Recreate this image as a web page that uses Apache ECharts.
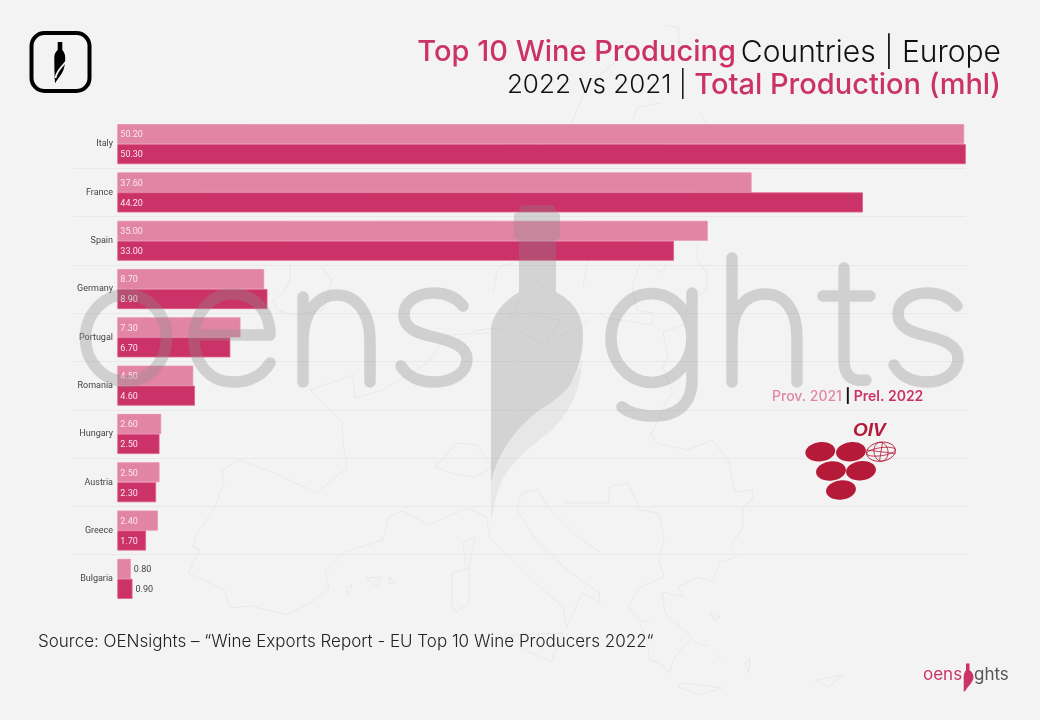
<!DOCTYPE html>
<html><head><meta charset="utf-8">
<style>html,body{margin:0;padding:0;background:#f3f3f3}#c{width:1040px;height:720px}</style>
<script src="https://cdn.jsdelivr.net/npm/echarts@6/dist/echarts.min.js"></script>
</head><body><div id="c"></div>
<script>
const countries = ['Italy','France','Spain','Germany','Portugal','Romania','Hungary','Austria','Greece','Bulgaria'];
const prov2021 = [50.2,37.6,35.0,8.7,7.3,4.5,2.6,2.5,2.4,0.8];
const prel2022 = [50.3,44.2,33.0,8.9,6.7,4.6,2.5,2.3,1.7,0.9];

const PINK='#cb3267', LIGHT='#e285a5', FONT='Inter, Lato, sans-serif';
const chart = echarts.init(document.getElementById('c'), null, {renderer:'canvas'});

function barData(arr){
  return arr.map(v => v < 1
    ? {value:v, label:{position:'right', distance:3, color:'#444'}}
    : {value:v});
}
function barSeries(name, arr, color, edge){
  return {
    name, type:'bar', data:barData(arr), barWidth:20, barGap:'0%',
    itemStyle:{color, borderColor:edge, borderWidth:0.8},
    label:{show:true, position:'insideLeft', distance:3, offset:[0,1], fontFamily:'Roboto', fontSize:9,
      color:'#fbe6ee', formatter:p=>p.value.toFixed(2)},
    silent:true, animation:false
  };
}

const mapPaths = [
 'M239 460L222 470L224 482L215 508L197 533L193 547L200 550L188 573L224 590L230 608L251 606L287 615L312 602L329 588L325 572L345 552L383 540L389 517L402 511L429 525L467 508L486 517L490 538L513 560L540 587L563 607L567 627L582 593L600 603L599 593L567 570L536 540L517 510L521 493L538 490L548 507L578 537L601 553',
 'M239 460L267 470L300 485L317 493L347 467L343 443L342 422L330 410L310 390L353 375L355 398L383 390L427 363L448 335L490 333',
 'M565 503L609 503L609 487L628 483L640 510L659 513L664 540L659 560L664 577L640 587L628 607L640 620L650 622',
 'M452 573L469 568L469 603L456 612L452 605Z','M475 537L463 543L465 563L469 567Z',
 'M366 578L381 577L377 587Z','M389 577L395 582L390 584Z','M346 587L352 585L348 595Z','M509 635L563 633L551 662L525 650Z',
 'M650 433L657 443L687 450L712 440L728 460L735 492L753 490L752 500L743 507L743 527L730 547L737 557L720 562L713 582L697 577L678 587L683 597L662 592L665 613L692 638L683 647L673 660L670 673L660 663L650 660L647 640L640 625',
 'M678 687L700 695L722 688L700 685L683 683Z','M815 680L843 675L828 687Z','M710 612L720 617L714 620Z','M745 663L750 658L749 673Z','M695 642L708 646M716 655L722 660',
 'M290 263L290 280L283 293L273 300L277 310L293 315L323 310L332 280L320 265',
 'M435 467L457 443L477 445L493 467L473 477L450 473Z',
 'M698 243L697 260L707 273L707 288L688 307L683 325L663 332L668 357L663 367L673 393L667 400L650 437',
 'M640 263L632 287L637 310L653 313L652 325L607 318L600 313','M650 263L662 273L667 262',
 'M583 288L587 263L592 250M590 318L580 328L560 335','M493 292L498 268L513 263','M472 332L490 328L503 330',
 'M520 300L535 315L560 320L545 345L525 335L510 320ZM535 280L550 295L540 305',
 'M665 25L679 28L679 50L661 60L621 57L586 87L572 123','M661 103L637 107L633 120','M700 113L706 123'
];

const wmLetters = 'M85.5 338A40.5 43.5 0 1 0 166.5 338A40.5 43.5 0 1 0 85.5 338Z'
 +'M194 335L270 335C270 310 254 294 232 294C210 294 194 314 194 338C194 364 210 382 233 382C250 382 262 376 270 363'
 +'M303 297L303 382M303 340C303 312 318 295 337 295C356 295 370 312 370 340L370 382'
 +'M463 306C456 297 446 293 434 293C415 293 404 303 404 315C404 328 416 333 434 337C452 341 467 347 467 359C467 373 452 382 434 382C419 382 407 376 401 366'
 +'M611 338A40.5 44.5 0 1 0 692 338A40.5 44.5 0 1 0 611 338Z'
 +'M692 293L692 380C692 408 672 416 655 416C640 416 628 412 622 407'
 +'M732 258L732 382M732 338C732 310 745 294 765 294C785 294 797 310 797 338L797 382'
 +'M844 268L844 360C844 376 852 382 866 380M823 296L870 296'
 +'M957 306C950 297 940 293 927 293C908 293 898 303 898 314C898 327 910 332 927 336C945 340 958 346 958 358C958 372 945 382 927 382C912 382 900 376 894 365';
const wmBottle = 'M524 205L551 205Q556 205 556 212L560 214L560 238L556 240L556 292C570 299 583 312 583 335C583 357 577 372 570 385C560 398 550 403 537 412C522 424 500 445 491 482L491 328C493 314 503 302 519 292L519 240L514 238L514 214L519 212Q519 205 524 205Z';
const wmSwoosh = 'M582 358C582 385 572 410 552 430C537 442 522 452 507 472C497 486 494 505 491 522L491 482C500 445 522 424 537 412C550 403 560 398 570 385C577 372 581 365 582 358Z';

const logoBottle = 'M57.7 42L62.3 42L62.3 50C64 52 65.2 54 65.2 58C65.2 65 64 71 60 76C58 79 56 81 55 83.5C54.5 75 54.3 66 54.3 58C54.3 54 55.5 52 57.7 50Z';
const logoSwoosh = 'M65.5 62C62 67 57 70 55.5 78';
const smallBottle = 'M966 663.5L969.5 663.5L969.5 670C972 672 973.5 674 973.5 677C973.5 682 968 686 966 690L963.7 692L963.7 677C963.7 674 964.5 672 966 670Z';

const grapes = [[820.3,451.7],[851,451.7],[831,471],[861,470.7],[841,490]];

let shapeId = 0;
function pathEl(d, style, z){
  const name = 'rawPath' + (shapeId++);
  echarts.graphic.registerShape(name, echarts.graphic.extendPath(d, {}));
  return {type:name, silent:true, z:z, style:style};
}

chart.setOption({
  backgroundColor:'#f3f3f3',
  animation:false,
  title:{
    right:39, top:36, padding:0,
    text:'{a|Top 10 Wine Producing} {b|Countries | Europe}\n{c|2022 vs 2021 | }{a|Total Production (mhl)}',
    textStyle:{align:'right', rich:{
      a:{fontFamily:FONT, fontSize:29, fontWeight:500, color:PINK, lineHeight:33, align:'right'},
      b:{fontFamily:FONT, fontSize:30, fontWeight:300, color:'#111', lineHeight:33, align:'right'},
      c:{fontFamily:FONT, fontSize:26, fontWeight:300, color:'#111', lineHeight:33, align:'right'}
    }}
  },
  grid:{left:73.3, top:120, width:892.5, height:483, containLabel:false},
  xAxis:{type:'value', min:-2.61, max:50.3, show:false, splitLine:{show:false}},
  yAxis:{type:'category', inverse:true, data:countries,
    axisLine:{show:false}, axisTick:{show:false},
    axisLabel:{fontFamily:'Roboto', fontSize:9, color:'#444', margin:-39.7, padding:[3,0,0,0]},
    splitLine:{show:true, showMinLine:false, showMaxLine:false, lineStyle:{color:'#e9e9e9', width:1}}
  },
  series:[barSeries('Prov. 2021',prov2021,LIGHT,'#e78fae'), barSeries('Prel. 2022',prel2022,PINK,'#e0608c')],
  graphic: [].concat(
    mapPaths.map(d => pathEl(d, {fill:null, stroke:'#e0e0e0', lineWidth:0.6}, 0)),
    [
    pathEl(wmLetters, {fill:null, stroke:'rgba(140,140,140,0.34)', lineWidth:11.5, lineCap:'round', lineJoin:'round'}, 50),
    pathEl(wmBottle, {fill:'rgba(140,140,140,0.3)'}, 50),
    pathEl(wmSwoosh, {fill:'rgba(140,140,140,0.11)'}, 50),
    {type:'rect', z:60, silent:true, shape:{x:31.5,y:33,width:58,height:58,r:13}, style:{fill:'none', stroke:'#000', lineWidth:4}},
    pathEl(logoBottle, {fill:'#000'}, 60),
    pathEl(logoSwoosh, {fill:null, stroke:'#f3f3f3', lineWidth:1.8}, 61),
    {type:'text', z:60, silent:true, x:772, y:390, style:{
      text:'{a|Prov. 2021} {c||} {b|Prel. 2022}', rich:{
        a:{fontFamily:FONT, fontSize:14, fontWeight:500, fill:LIGHT, color:LIGHT},
        b:{fontFamily:FONT, fontSize:14, fontWeight:600, fill:PINK, color:PINK},
        c:{fontFamily:FONT, fontSize:14, fontWeight:700, fill:'#111', color:'#111'}
      }}},
    {type:'text', z:60, silent:true, x:38, y:633, style:{text:'Source: OENsights – “Wine Exports Report - EU Top 10 Wine Producers 2022“',
      fontFamily:FONT, fontSize:17, fontWeight:300, fill:'#222'}},
    {type:'text', z:60, silent:true, x:853, y:421, style:{text:'OIV', fontFamily:'"Liberation Sans"', fontSize:19, fontWeight:'bold', fontStyle:'italic', fill:'#b51b38'}}
    ],
    grapes.map(g=>({type:'ellipse', z:60, silent:true, x:g[0], y:g[1], rotation:0.12, shape:{cx:0,cy:0,rx:15,ry:9.6}, style:{fill:'#b51b38'}})),
    [
    {type:'ellipse', z:60, silent:true, x:881, y:451.7, rotation:0.14, shape:{cx:0,cy:0,rx:14.5,ry:9.5}, style:{fill:'none', stroke:'#b51b38', lineWidth:0.9}},
    {type:'ellipse', z:60, silent:true, x:881, y:451.7, rotation:0.14, shape:{cx:0,cy:0,rx:7,ry:9.5}, style:{fill:'none', stroke:'#b51b38', lineWidth:0.8}},
    {type:'ellipse', z:60, silent:true, x:881, y:451.7, rotation:0.14, shape:{cx:0,cy:0,rx:14.5,ry:4}, style:{fill:'none', stroke:'#b51b38', lineWidth:0.8}},
    {type:'line', z:60, silent:true, shape:{x1:882.5,y1:442.3,x2:879.5,y2:461}, style:{stroke:'#b51b38', lineWidth:0.8}},
    {type:'line', z:60, silent:true, shape:{x1:866.5,y1:450,x2:895.5,y2:453.5}, style:{stroke:'#b51b38', lineWidth:0.8}},
    {type:'text', z:60, silent:true, x:923, y:666, style:{text:'oens', fontFamily:FONT, fontSize:17, fontWeight:400, fill:'#cb3267'}},
    {type:'text', z:60, silent:true, x:974, y:666, style:{text:'ghts', fontFamily:FONT, fontSize:17, fontWeight:400, fill:'#555'}},
    pathEl(smallBottle, {fill:'#cb3267'}, 60)
    ])
});
</script></body></html>
